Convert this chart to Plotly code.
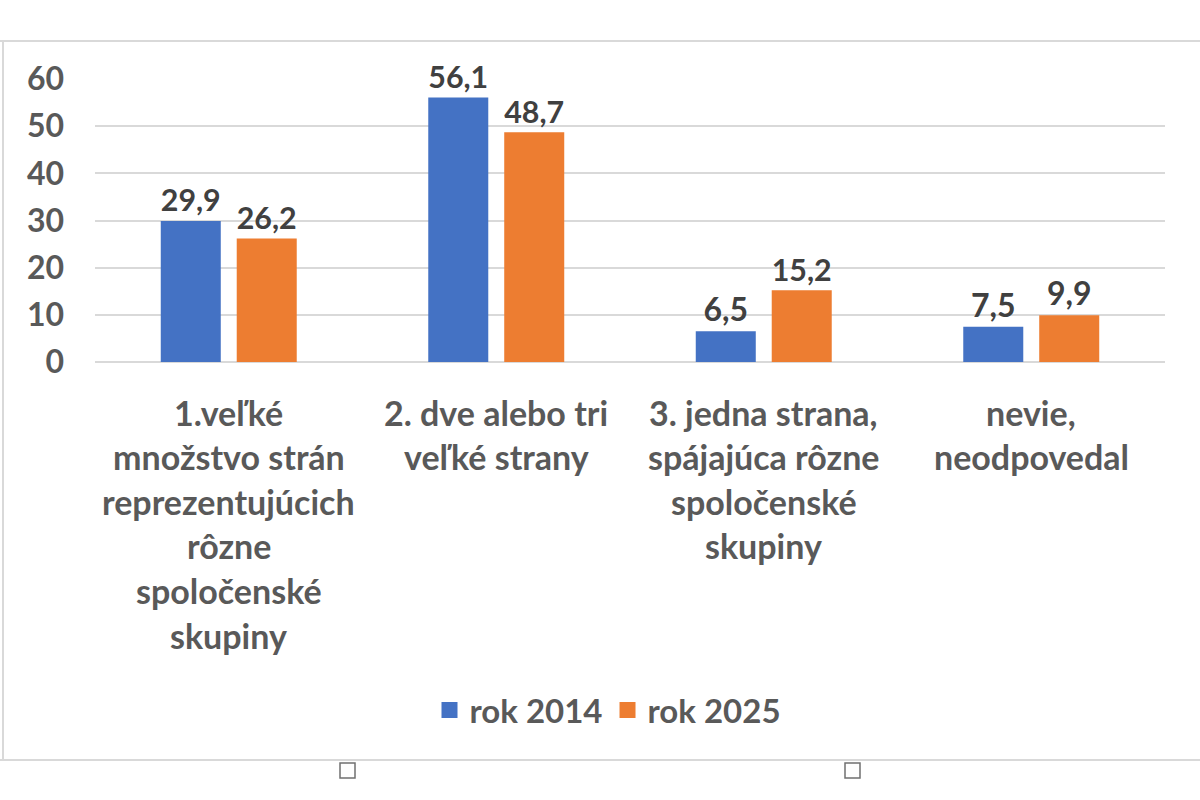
import plotly.graph_objects as go

categories = ["c1", "c2", "c3", "c4"]
cat_lines = [
    ["1.veľké", "množstvo strán", "reprezentujúcich", "rôzne", "spoločenské", "skupiny"],
    ["2. dve alebo tri", "veľké strany"],
    ["3. jedna strana,", "spájajúca rôzne", "spoločenské", "skupiny"],
    ["nevie,", "neodpovedal"],
]
series_names = ["rok 2014", "rok 2025"]
rok_2014 = [29.9, 56.1, 6.5, 7.5]
rok_2025 = [26.2, 48.7, 15.2, 9.9]

BLUE = "#4472C4"
ORANGE = "#ED7D31"
AXIS_GREY = "#595959"
LABEL_GREY = "#404040"
FONT = "Lato"

# plot area in page pixels (body margin removed below)
L, R, T, B = 95, 35, 79, 438
W, H = 1200 - L - R, 800 - T - B

def px(x):
    return (x - L) / W

def py(y):
    return (800 - B - y) / H

fig = go.Figure()
for name, vals, col in zip(series_names, [rok_2014, rok_2025], [BLUE, ORANGE]):
    fig.add_trace(go.Bar(
        x=categories, y=vals, name=name, marker=dict(color=col, line=dict(width=0)),
        texttemplate="%{y:.1f}", textposition="outside", cliponaxis=False,
        textfont=dict(family=FONT, size=32, color=LABEL_GREY, weight=700),
        showlegend=False,
    ))
# legend entries with bigger square swatches
for name, col in zip(series_names, [BLUE, ORANGE]):
    fig.add_trace(go.Scatter(
        x=[None], y=[None], mode="markers", name=name,
        marker=dict(symbol="square", size=18, color=col),
    ))

# category labels, one annotation per line
ann = []
for cat, lines in zip(categories, cat_lines):
    for j, line in enumerate(lines):
        ann.append(dict(
            x=cat, xref="x", y=py(412), yref="paper", yanchor="middle",
            yshift=-44.6 * j, text=line, showarrow=False,
            font=dict(family=FONT, size=34, color=AXIS_GREY, weight=700),
        ))

grey = dict(color="#d9d9d9", width=2)
shapes = [
    dict(type="line", xref="paper", yref="paper", x0=px(0), x1=px(1200), y0=py(41), y1=py(41), line=grey),
    dict(type="line", xref="paper", yref="paper", x0=px(3), x1=px(3), y0=py(41), y1=py(760), line=grey),
    dict(type="line", xref="paper", yref="paper", x0=px(0), x1=px(1200), y0=py(760), y1=py(760), line=grey),
]
for x0 in [340, 845]:
    shapes.append(dict(type="rect", xref="paper", yref="paper", x0=px(x0), x1=px(x0 + 15),
                       y0=py(763), y1=py(778), line=dict(color="#707070", width=1.5)))

fig.update_layout(
    width=1200, height=800,
    margin=dict(l=L, r=R, t=T, b=B, autoexpand=False),
    paper_bgcolor="white", plot_bgcolor="white",
    separators=",.",
    barmode="group", bargap=0.432, bargroupgap=0.21,
    font=dict(family=FONT, size=32, color=AXIS_GREY, weight=700),
    xaxis=dict(showticklabels=False, showgrid=False, showline=False, zeroline=False),
    yaxis=dict(range=[0, 60], dtick=10, showgrid=True, gridcolor="#d9d9d9", gridwidth=2,
               zeroline=True, zerolinecolor="#d9d9d9", zerolinewidth=2, showline=False,
               ticklabelstandoff=30,
               tickfont=dict(family=FONT, size=32, color=AXIS_GREY, weight=700)),
    legend=dict(orientation="h", x=px(608), xanchor="center", y=py(710), yanchor="middle",
                font=dict(family=FONT, size=33, color=AXIS_GREY, weight=700),
                itemwidth=30, traceorder="normal"),
    annotations=ann,
    shapes=shapes,
)

fig.write_html("out.html", config={"displayModeBar": False},
               post_script="document.body.style.margin='0';")
